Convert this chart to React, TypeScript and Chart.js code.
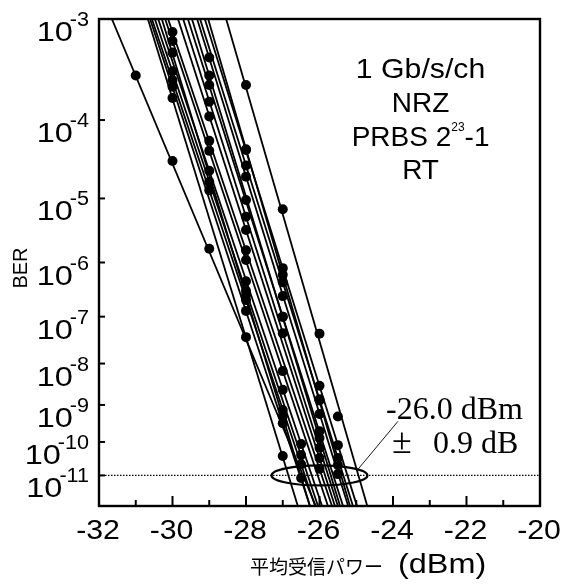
import React, { useEffect, useRef } from 'react';
import { Chart, registerables } from 'chart.js';

Chart.register(...registerables);

// ---------- data ----------
const xMin = -32;
const xMax = -20;
const xTickLabels = [-32, -30, -28, -26, -24, -22, -20];
const xMinorTicks = [-31, -29, -27, -25, -23, -21];
const yTickExponents = [-3, -4, -5, -6, -7, -8, -9, -10, -11];
const berTop = 1e-3;
const berBottom = 1e-12;
const thresholdBer = 1e-11;

// fitted lines: received power (dBm) where each channel's line meets BER 1e-3 and 1e-12
const lineTopX = [-31.65, -30.67, -30.61, -30.56, -30.48, -30.39, -30.29, -30.2, -30.12, -29.85, -29.71, -29.58, -29.47, -29.33, -29.25, -29.12, -29.03, -28.54];
const lineBottomX = [-26.1, -26.59, -26.26, -26.12, -26.04, -25.93, -26.26, -25.77, -25.66, -25.58, -25.5, -25.36, -25.44, -25.22, -25.09, -24.98, -25.17, -24.7];

// measured points per channel
const dotPower: number[][] = [
  [-31, -30, -29, -28],
  [-30, -27],
  [-30, -28, -27, -26.5],
  [-30, -29, -28, -27, -26.5],
  [-30, -29, -28, -26.5],
  [-29, -28, -27, -26.5],
  [-30, -28, -27],
  [-30, -29, -28, -27],
  [-30, -29, -28, -26],
  [-29, -28, -26],
  [-29, -28, -27, -26],
  [-29, -28, -27, -26],
  [-29, -27, -26],
  [-29, -28, -27, -26, -25.5],
  [-28, -27, -26, -25.5],
  [-28, -27, -26, -25.5],
  [-28, -27, -26, -25.5],
  [-28, -27, -26, -25.5],
];
const dotBer: number[][] = [
  [3.0e-4, 3.2e-5, 1.7e-6, 3.8e-8],
  [1.75e-4, 3.9e-11],
  [2.3e-4, 1.3e-7, 3.3e-10, 8.3e-12],
  [2.7e-4, 1.3e-5, 2.1e-7, 7.4e-10, 2.2e-11],
  [3.3e-4, 1.7e-5, 3.1e-7, 4.2e-11],
  [2.4e-5, 4.7e-7, 2.4e-9, 8.7e-11],
  [5.0e-4, 2.6e-7, 5.1e-10],
  [6.4e-4, 4.3e-5, 1.1e-6, 6.7e-9],
  [7.7e-4, 5.7e-5, 1.6e-6, 1.6e-11],
  [1.1e-4, 3.4e-6, 3.4e-11],
  [1.6e-4, 5.4e-6, 4.6e-8, 6.8e-11],
  [2.4e-4, 9.5e-6, 1.0e-7, 2.0e-10],
  [3.0e-4, 9.9e-8, 1.3e-10],
  [4.5e-4, 2.0e-5, 2.5e-7, 5.8e-10, 1.1e-11],
  [2.8e-5, 4.5e-7, 1.4e-9, 3.4e-11],
  [4.4e-5, 8.0e-7, 3.0e-9, 8.1e-11],
  [4.5e-5, 6.1e-7, 1.3e-9, 2.1e-11],
  [2.4e-4, 7.0e-6, 4.5e-8, 5.0e-10],
];

const sensitivityCenter = -26.0; // dBm
const sensitivitySpread = 0.9; // dB

const infoLines = ['1 Gb/s/ch', 'NRZ', 'PRBS 2', 'RT'];
const xTitleJa = '平均受信パワー';
const xTitleUnit = '(dBm)';
const yTitle = 'BER';

// ---------- helpers ----------
const SANS = '"Liberation Sans", Arial, Helvetica, sans-serif';
const SERIF = '"Liberation Serif", "Times New Roman", serif';
const CJK = '"Noto Sans CJK JP", "Noto Sans CJK SC", sans-serif';

// BER axis: -log(-log BER) scale
const tq = (ber: number) => Math.log10(-Math.log10(ber));

function textW(ctx: CanvasRenderingContext2D, text: string, font: string, sx: number) {
  ctx.font = font;
  return ctx.measureText(text).width * sx;
}
function drawText(
  ctx: CanvasRenderingContext2D,
  text: string,
  x: number,
  y: number,
  font: string,
  align: 'left' | 'right' | 'center',
  sx = 1
) {
  ctx.save();
  ctx.font = font;
  ctx.textBaseline = 'alphabetic';
  ctx.textAlign = align;
  ctx.translate(x, y);
  ctx.scale(sx, 1);
  ctx.fillText(text, 0, 0);
  ctx.restore();
}

const decorPlugin = {
  id: 'decor',
  beforeDatasetsDraw(chart: any) {
    const { ctx, chartArea: a, scales } = chart;
    const ys = scales.y;
    const y11 = ys.getPixelForValue(tq(thresholdBer));
    ctx.save();
    ctx.strokeStyle = '#000';
    ctx.lineWidth = 1.3;
    ctx.setLineDash([1.5, 1.5]);
    ctx.beginPath();
    ctx.moveTo(a.left, y11);
    ctx.lineTo(a.right, y11);
    ctx.stroke();
    ctx.restore();
  },
  afterDraw(chart: any) {
    const { ctx, chartArea: a, scales } = chart;
    const xs = scales.x;
    const ys = scales.y;
    ctx.save();
    ctx.strokeStyle = '#000';
    ctx.fillStyle = '#000';

    // ellipse around the sensitivity cluster
    const cx = xs.getPixelForValue(sensitivityCenter);
    const cy = ys.getPixelForValue(tq(thresholdBer));
    const rx = xs.getPixelForValue(sensitivityCenter + sensitivitySpread * 1.45) - cx;
    const ry = 10;
    ctx.lineWidth = 2.2;
    ctx.beginPath();
    ctx.ellipse(cx, cy, rx, ry, 0, 0, Math.PI * 2);
    ctx.stroke();

    // leader line
    ctx.lineWidth = 0.9;
    ctx.beginPath();
    ctx.moveTo(cx + rx * 0.8, cy - ry * 0.6);
    ctx.lineTo(cx + rx * 0.8 + 40, cy - 54);
    ctx.stroke();

    // frame
    ctx.lineWidth = 2.4;
    ctx.strokeRect(a.left, a.top, a.right - a.left, a.bottom - a.top);

    // y ticks (inside)
    ctx.lineWidth = 2;
    yTickExponents.forEach((e) => {
      const py = ys.getPixelForValue(tq(Math.pow(10, e)));
      if (py <= a.top + 2) return;
      ctx.beginPath();
      ctx.moveTo(a.left, py);
      ctx.lineTo(a.left + 6, py);
      ctx.stroke();
    });
    // x ticks (inside)
    xTickLabels.forEach((v) => {
      const px = xs.getPixelForValue(v);
      if (px <= a.left + 2 || px >= a.right - 2) return;
      ctx.beginPath();
      ctx.moveTo(px, a.bottom);
      ctx.lineTo(px, a.bottom - 10);
      ctx.stroke();
    });
    xMinorTicks.forEach((v) => {
      const px = xs.getPixelForValue(v);
      ctx.beginPath();
      ctx.moveTo(px, a.bottom);
      ctx.lineTo(px, a.bottom - 6);
      ctx.stroke();
    });

    // y tick labels 10^-n
    const tenFont = `28px ${SANS}`;
    const expFont = `20px ${SANS}`;
    yTickExponents.forEach((e) => {
      const py = ys.getPixelForValue(tq(Math.pow(10, e)));
      const right = a.left - 10;
      const expText = `${e}`;
      const ew = textW(ctx, expText, expFont, 1.08);
      drawText(ctx, expText, right - ew, py + 7, expFont, 'left', 1.08);
      drawText(ctx, '10', right - ew + 3, py + 22, tenFont, 'right', 1.16);
    });

    // x tick labels
    xTickLabels.forEach((v) => {
      const px = xs.getPixelForValue(v);
      drawText(ctx, `${v}`, px - 1, a.bottom + 33, `27px ${SANS}`, 'center', 1.12);
    });

    // x title
    drawText(ctx, xTitleJa, 250, 574, `19px ${CJK}`, 'left', 1.0);
    drawText(ctx, xTitleUnit, 398, 573, `27px ${SANS}`, 'left', 1.2);

    // y title
    ctx.save();
    ctx.translate(27, 268);
    ctx.rotate(-Math.PI / 2);
    drawText(ctx, yTitle, 0, 0, `20px ${SANS}`, 'center', 1.0);
    ctx.restore();

    // info block
    const icx = xs.getPixelForValue(-23.25);
    const infoFont = `28px ${SANS}`;
    drawText(ctx, infoLines[0], icx, a.top + 59, infoFont, 'center', 1.08);
    drawText(ctx, infoLines[1], icx, a.top + 93, infoFont, 'center', 1.0);
    const supFont = `12px ${SANS}`;
    const sup = '23';
    const tail = '-1';
    const wBase = textW(ctx, infoLines[2], infoFont, 1.0);
    const wSup = textW(ctx, sup, supFont, 1.0);
    const wTail = textW(ctx, tail, infoFont, 1.0);
    let sx = icx - (wBase + wSup + wTail) / 2;
    drawText(ctx, infoLines[2], sx, a.top + 127, infoFont, 'left');
    sx += wBase;
    drawText(ctx, sup, sx, a.top + 112, supFont, 'left');
    sx += wSup;
    drawText(ctx, tail, sx, a.top + 127, infoFont, 'left');
    drawText(ctx, infoLines[3], icx, a.top + 160, infoFont, 'center', 1.0);

    // sensitivity annotation
    const serifFont = `32px ${SERIF}`;
    drawText(ctx, `${sensitivityCenter.toFixed(1)} dBm`, 386, 419, serifFont, 'left');
    drawText(ctx, '\u00b1', 392, 453, `36px ${SERIF}`, 'left');
    drawText(ctx, `${sensitivitySpread.toFixed(1)} dB`, 433, 453, serifFont, 'left');

    ctx.restore();
  },
};

export default function App() {
  const canvasRef = useRef<HTMLCanvasElement | null>(null);

  useEffect(() => {
    if (!canvasRef.current) return;
    const datasets: any[] = [];
    lineTopX.forEach((tx, i) => {
      datasets.push({
        data: [
          { x: tx, y: tq(berTop) },
          { x: lineBottomX[i], y: tq(berBottom) },
        ],
        showLine: true,
        borderColor: '#000',
        borderWidth: 1.8,
        pointRadius: 0,
        fill: false,
      });
    });
    dotPower.forEach((ps, i) => {
      datasets.push({
        data: ps.map((p, j) => ({ x: p, y: tq(dotBer[i][j]) })),
        showLine: false,
        pointRadius: 5,
        pointBackgroundColor: '#000',
        pointBorderColor: '#000',
        pointBorderWidth: 0,
      });
    });

    const chart = new Chart(canvasRef.current, {
      type: 'scatter',
      data: { datasets },
      options: {
        animation: false,
        responsive: true,
        maintainAspectRatio: false,
        devicePixelRatio: 1,
        events: [],
        layout: { padding: { top: 19, right: 25, left: 0, bottom: 0 } },
        plugins: { legend: { display: false }, tooltip: { enabled: false } },
        scales: {
          x: {
            type: 'linear',
            min: xMin,
            max: xMax,
            ticks: { display: false },
            grid: { display: false },
            border: { display: false },
            afterFit: (s: any) => {
              s.height = 78;
              s.paddingLeft = 0;
              s.paddingRight = 0;
            },
          },
          y: {
            type: 'linear',
            reverse: true,
            min: tq(berTop),
            max: tq(berBottom),
            ticks: { display: false },
            grid: { display: false },
            border: { display: false },
            afterFit: (s: any) => {
              s.width = 99;
              s.paddingTop = 0;
              s.paddingBottom = 0;
            },
          },
        },
      },
      plugins: [decorPlugin],
    });
    return () => chart.destroy();
  }, []);

  return (
    <div style={{ position: 'fixed', left: 0, top: 0, width: 565, height: 584, background: '#fff' }}>
      <canvas ref={canvasRef} />
    </div>
  );
}
